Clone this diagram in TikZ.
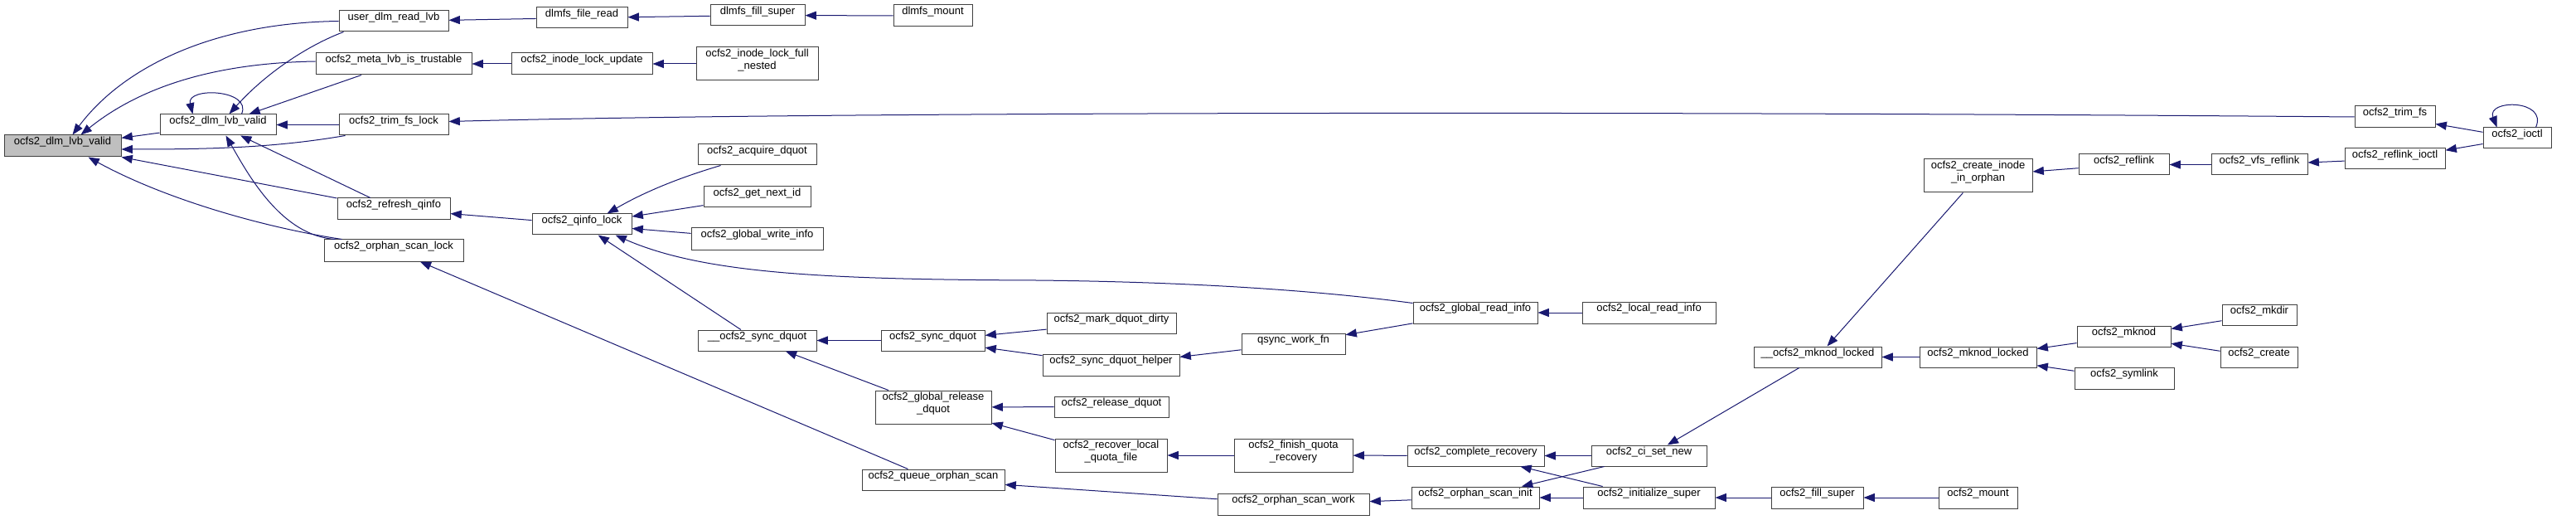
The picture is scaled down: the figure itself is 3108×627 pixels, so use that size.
\documentclass[tikz,border=0pt]{standalone}
\usepackage{fontspec}
\setmainfont{Liberation Sans}
\usetikzlibrary{fit,arrows.meta,calc}
\definecolor{edgeblue}{RGB}{25,25,112}
\definecolor{rootgray}{RGB}{191,191,191}
\begin{document}
\begin{tikzpicture}[x=0.75pt,y=-0.75pt,
  fn/.style={draw=black!75, line width=0.75pt, fill=white, inner sep=0pt, align=center,
    font=\fontsize{9.75}{11.25}\selectfont},
  rootfn/.style={fn, fill=rootgray},
  call/.style={draw=edgeblue, line width=0.75pt, -{Triangle[length=10pt,width=7.5pt]}},
]
\useasboundingbox[fill=white] (0,0) rectangle (3108,627);

% nodes
\node[rootfn, fit={(5,163) (146,189)}] (root) {ocfs2\_dlm\_lvb\_valid};
\node[fn, fit={(193,138) (333,163)}] (dlmB) {ocfs2\_dlm\_lvb\_valid};
\node[fn, fit={(409,13) (541,38)}] (user) {user\_dlm\_read\_lvb};
\node[fn, fit={(381,64) (569,90)}] (meta) {ocfs2\_meta\_lvb\_is\_trustable};
\node[fn, fit={(409,138) (541,163)}] (trimlock) {ocfs2\_trim\_fs\_lock};
\node[fn, fit={(407,239) (543,265)}] (refresh) {ocfs2\_refresh\_qinfo};
\node[fn, fit={(391,289) (559,315)}] (orphlock) {ocfs2\_orphan\_scan\_lock};
\node[fn, fit={(647,9) (757,34)}] (fread) {dlmfs\_file\_read};
\node[fn, fit={(857,6) (971,31)}] (dfill) {dlmfs\_fill\_super};
\node[fn, fit={(1078,6) (1173,32)}] (dmount) {dlmfs\_mount};
\node[fn, fit={(617,64) (787,90)}] (ilu) {ocfs2\_inode\_lock\_update};
\node[fn, fit={(840,57) (987,97)}] (ilfn) {ocfs2\_inode\_lock\_full\\\_nested};
\node[fn, fit={(842,174) (985,199)}] (acq) {ocfs2\_acquire\_dquot};
\node[fn, fit={(849,225) (978,250)}] (getid) {ocfs2\_get\_next\_id};
\node[fn, fit={(834,275) (993,301)}] (gwi) {ocfs2\_global\_write\_info};
\node[fn, fit={(642,258) (762,283)}] (qlock) {ocfs2\_qinfo\_lock};
\node[fn, fit={(842,398) (985,423)}] (usync) {\_\_ocfs2\_sync\_dquot};
\node[fn, fit={(1063,398) (1188,423)}] (sync) {ocfs2\_sync\_dquot};
\node[fn, fit={(1263,377) (1419,402)}] (mark) {ocfs2\_mark\_dquot\_dirty};
\node[fn, fit={(1258,427) (1423,453)}] (helper) {ocfs2\_sync\_dquot\_helper};
\node[fn, fit={(1056,471) (1196,511)}] (grel) {ocfs2\_global\_release\\\_dquot};
\node[fn, fit={(1272,478) (1410,503)}] (rel) {ocfs2\_release\_dquot};
\node[fn, fit={(1273,529) (1408,569)}] (recov) {ocfs2\_recover\_local\\\_quota\_file};
\node[fn, fit={(1040,566) (1212,591)}] (queue) {ocfs2\_queue\_orphan\_scan};
\node[fn, fit={(1498,402) (1623,427)}] (qsync) {qsync\_work\_fn};
\node[fn, fit={(1705,364) (1855,390)}] (gread) {ocfs2\_global\_read\_info};
\node[fn, fit={(1909,364) (2070,390)}] (lread) {ocfs2\_local\_read\_info};
\node[fn, fit={(1489,529) (1632,569)}] (finish) {ocfs2\_finish\_quota\\\_recovery};
\node[fn, fit={(1698,537) (1863,562)}] (complete) {ocfs2\_complete\_recovery};
\node[fn, fit={(1469,595) (1652,621)}] (owork) {ocfs2\_orphan\_scan\_work};
\node[fn, fit={(1703,587) (1857,613)}] (oinit) {ocfs2\_orphan\_scan\_init};
\node[fn, fit={(1920,537) (2059,562)}] (ciset) {ocfs2\_ci\_set\_new};
\node[fn, fit={(1910,587) (2069,613)}] (initsup) {ocfs2\_initialize\_super};
\node[fn, fit={(2321,192) (2452,232)}] (cio) {ocfs2\_create\_inode\\\_in\_orphan};
\node[fn, fit={(2508,186) (2617,211)}] (reflink) {ocfs2\_reflink};
\node[fn, fit={(2116,418) (2270,443)}] (umknod) {\_\_ocfs2\_mknod\_locked};
\node[fn, fit={(2316,418) (2457,443)}] (mknodl) {ocfs2\_mknod\_locked};
\node[fn, fit={(2506,393) (2619,418)}] (mknod) {ocfs2\_mknod};
\node[fn, fit={(2503,443) (2623,469)}] (symlink) {ocfs2\_symlink};
\node[fn, fit={(2137,587) (2248,613)}] (fillsup) {ocfs2\_fill\_super};
\node[fn, fit={(2339,587) (2434,613)}] (mount) {ocfs2\_mount};
\node[fn, fit={(2841,128) (2938,154)}] (trimfs) {ocfs2\_trim\_fs};
\node[fn, fit={(2996,154) (3078,179)}] (ioctl) {ocfs2\_ioctl};
\node[fn, fit={(2668,186) (2784,211)}] (vfsref) {ocfs2\_vfs\_reflink};
\node[fn, fit={(2829,179) (2950,204)}] (refioctl) {ocfs2\_reflink\_ioctl};
\node[fn, fit={(2681,367) (2771,392)}] (mkdir) {ocfs2\_mkdir};
\node[fn, fit={(2679,418) (2772,443)}] (create) {ocfs2\_create};

\coordinate (rbend) at (1250,338);

% edges into root
\draw[call] (dlmB) -- (root);
\draw[call] (user.west) .. controls +(-149,2) and +(62,-83) .. ([shift={(83,0)}]root.north west);
\draw[call] ([shift={(0,-3)}]meta.west) .. controls +(-121,2) and +(72,-58) .. ([shift={(93,0)}]root.north west);
\draw[call] ([shift={(8,0)}]trimlock.south west) .. controls +(-87,15) and +(104,0) .. ([shift={(0,4)}]root.east);
\draw[call] (refresh) -- (root);
\draw[call] ([shift={(22,0)}]orphlock.north west) .. controls +(-93,-14) and +(93,51) .. ([shift={(102,0)}]root.south west);

% edges into dlmB
\draw[call] ([shift={(99,0)}]dlmB.north west) .. controls +(13,-30) and +(-8,-33) .. ([shift={(40,0)}]dlmB.north west);
\draw[call] ([shift={(6,0)}]user.south west) .. controls +(-45,17) and +(43,-48) .. ([shift={(84,0)}]dlmB.north west);
\draw[call] (meta) -- (dlmB);
\draw[call] (trimlock) -- (dlmB);
\draw[call] (refresh) -- (dlmB);
\draw[call] ([shift={(14,0)}]orphlock.north west) .. controls +(-65,-4) and +(27,47) .. ([shift={(80,0)}]dlmB.south west);

% top chains
\draw[call] (fread) -- (user);
\draw[call] (dfill) -- (fread);
\draw[call] (dmount) -- (dfill);
\draw[call] (ilu) -- (meta);
\draw[call] (ilfn) -- (ilu);
\draw[call] (trimfs.west) .. controls +(-841,-7) and +(459,-12) .. ([shift={(0,-4)}]trimlock.east);
\draw[call] (ioctl) -- (trimfs);
\draw[call] ([shift={(64,0)}]ioctl.north west) .. controls +(15,-34) and +(-13,-34) .. ([shift={(17,0)}]ioctl.north west);
\draw[call] (refioctl) -- (vfsref);
\draw[call] (ioctl) -- (refioctl);
\draw[call] (vfsref) -- (reflink);
\draw[call] (reflink) -- (cio);

% qinfo
\draw[call] (qlock) -- (refresh);
\draw[call] (queue) -- (orphlock);
\draw[call] ([shift={(28,0)}]acq.south west) .. controls +(-30,9) and +(57,-33) .. ([shift={(91,0)}]qlock.north west);
\draw[call] (getid) -- (qlock);
\draw[call] (gwi) -- (qlock);
\draw[call] (usync) -- (qlock);
\draw[call] ([shift={(0,2)}]gread.north west) .. controls +(-105,-14) and +(200,2) .. (rbend)
   .. controls +(-250,-1) and +(107,47) .. ([shift={(101,0)}]qlock.south west);

% sync dquot
\draw[call] (sync) -- (usync);
\draw[call] (grel) -- (usync);
\draw[call] (mark) -- (sync);
\draw[call] (helper) -- (sync);
\draw[call] (qsync) -- (helper);
\draw[call] (gread) -- (qsync);
\draw[call] (lread) -- (gread);
\draw[call] (rel) -- (grel);
\draw[call] (recov) -- (grel);
\draw[call] (finish) -- (recov);
\draw[call] (complete) -- (finish);
\draw[call] (ciset) -- (complete);
\draw[call] (initsup) -- (complete);
\draw[call] (owork) -- (queue);
\draw[call] (oinit) -- (owork);
\draw[call] (ciset) -- (oinit);
\draw[call] (initsup) -- (oinit);
\draw[call] (umknod) -- (ciset);
\draw[call] (fillsup) -- (initsup);
\draw[call] (mount) -- (fillsup);
\draw[call] (cio) -- (umknod);
\draw[call] (mknodl) -- (umknod);
\draw[call] (mknod) -- (mknodl);
\draw[call] (symlink) -- (mknodl);
\draw[call] (mkdir) -- (mknod);
\draw[call] (create) -- (mknod);
\end{tikzpicture}
\end{document}
